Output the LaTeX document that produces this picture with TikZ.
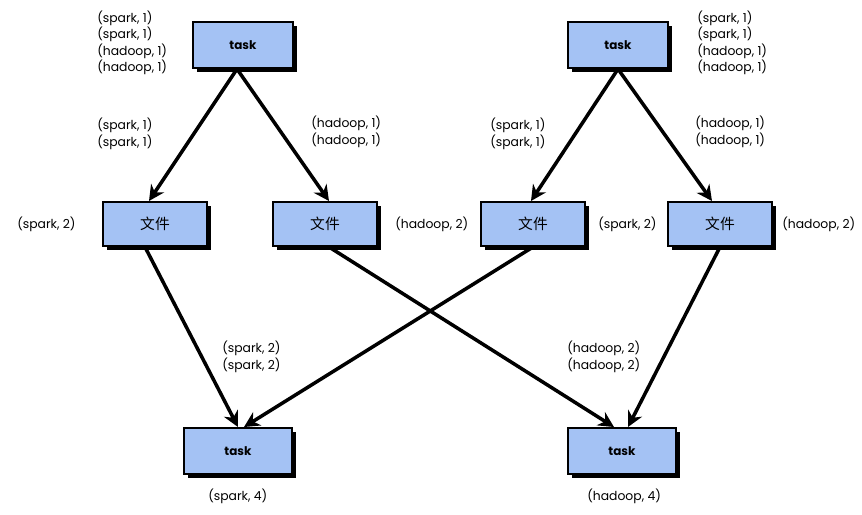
\documentclass[tikz,border=0pt]{standalone}
\usepackage{fontspec}
\setmainfont{Poppins}
\newfontfamily\cjk{Noto Sans CJK SC}
\usetikzlibrary{shadows,arrows.meta}

\definecolor{boxblue}{HTML}{A4C2F4}
\tikzset{
  box/.style={draw=black, line width=1.4pt, fill=boxblue, minimum width=2.5cm,
    minimum height=1.15cm, font=\fontsize{8.5}{10}\selectfont\bfseries,
    drop shadow={fill=black, opacity=1, shadow xshift=0.1cm, shadow yshift=-0.1cm}},
  filebox/.style={box, minimum width=2.62cm, minimum height=1.1cm, font=\cjk\fontsize{10.5}{12}\selectfont},
  pairs/.style={align=left, anchor=west, inner sep=0pt, font=\fontsize{8.8}{11.7}\selectfont},
  flow/.style={-{Stealth[length=11pt,width=11pt]}, line width=2.5pt}
}

\begin{document}
\begin{tikzpicture}[x=0.025cm,y=-0.025cm]
    \useasboundingbox (0,0) rectangle (862,514);
    % boxes
    \node[box] (taskA) at (243,45) {task};
    \node[box] (taskB) at (618,45) {task};
    \node[filebox] (fileA) at (155,224) {文件};
    \node[filebox] (fileB) at (325,224) {文件};
    \node[filebox] (fileC) at (533,224) {文件};
    \node[filebox] (fileD) at (720,224) {文件};
    \node[box, minimum width=2.7cm] (sumA) at (238,451) {task};
    \node[box, minimum width=2.7cm] (sumB) at (622,451) {task};
    % texts
    \node[pairs] (inA) at (97,43) {(spark, 1)\\(spark, 1)\\(hadoop, 1)\\(hadoop, 1)};
    \node[pairs] (inB) at (697,43) {(spark, 1)\\(spark, 1)\\(hadoop, 1)\\(hadoop, 1)};
    \node[pairs] (sparkA) at (97,134) {(spark, 1)\\(spark, 1)};
    \node[pairs] (hadoopA) at (311,132) {(hadoop, 1)\\(hadoop, 1)};
    \node[pairs] (sparkB) at (490,134) {(spark, 1)\\(spark, 1)};
    \node[pairs] (hadoopB) at (695,132) {(hadoop, 1)\\(hadoop, 1)};
    \node[pairs] (cntA) at (17,224) {(spark, 2)};
    \node[pairs] (cntB) at (395,224) {(hadoop, 2)};
    \node[pairs] (cntC) at (598,224) {(spark, 2)};
    \node[pairs] (cntD) at (782,224) {(hadoop, 2)};
    \node[pairs] (mergeA) at (222,357) {(spark, 2)\\(spark, 2)};
    \node[pairs] (mergeB) at (567,357) {(hadoop, 2)\\(hadoop, 2)};
    \node[pairs] (outA) at (208,496) {(spark, 4)};
    \node[pairs] (outB) at (587,496) {(hadoop, 4)};
    % arrows
    \draw[flow] ([xshift=-0.15cm]taskA.south) -- ([xshift=-0.15cm]fileA.north);
    \draw[flow] ([xshift=-0.15cm]taskA.south) -- ([xshift=0.1cm]fileB.north);
    \draw[flow] (taskB.south) -- ([xshift=-0.05cm]fileC.north);
    \draw[flow] (taskB.south) -- ([xshift=-0.2cm]fileD.north);
    \draw[flow] ([xshift=-0.25cm]fileA.south) -- (sumA.north);
    \draw[flow] (fileC.south) -- ([xshift=0.15cm]sumA.north);
    \draw[flow] ([xshift=0.1cm]fileB.south) -- ([xshift=-0.2cm]sumB.north);
    \draw[flow] (fileD.south) -- ([xshift=0.15cm]sumB.north);
\end{tikzpicture}
\end{document}
